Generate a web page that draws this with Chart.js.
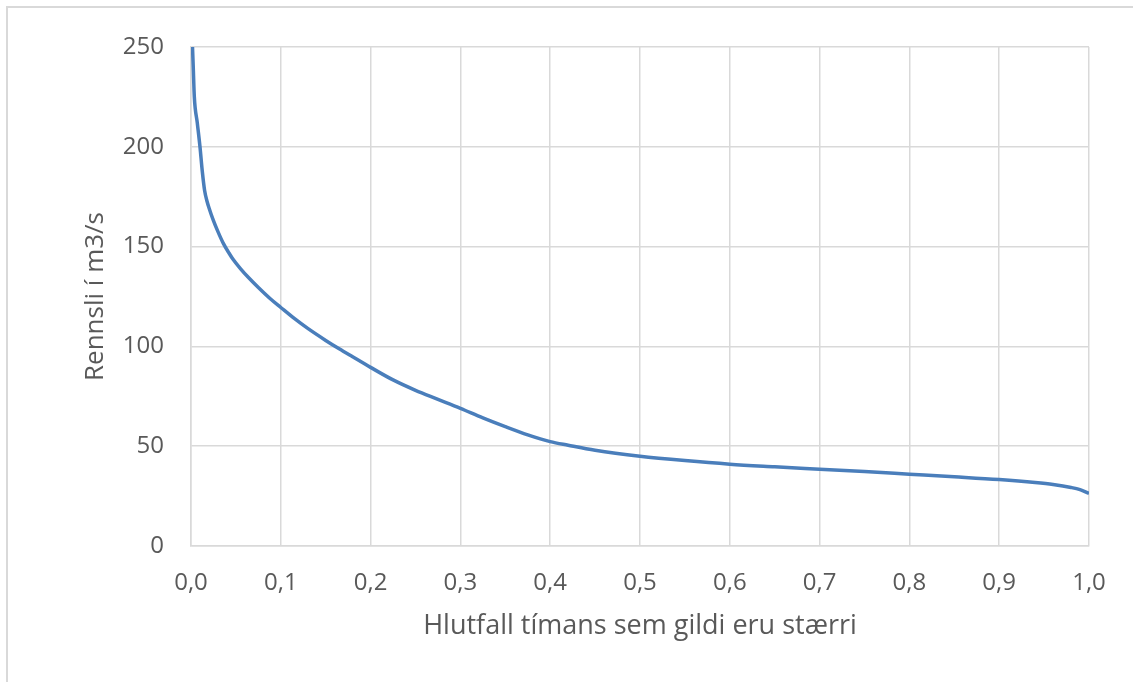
<!DOCTYPE html>
<html lang="is">
<head>
  <meta charset="UTF-8">
  <title>Rennsli</title>
  <script src="https://cdn.jsdelivr.net/npm/chart.js@4/dist/chart.umd.min.js"></script>
  <style>
    html, body { margin: 0; padding: 0; background: #fff; }
    #wrap { position: relative; width: 1133px; height: 682px; overflow: hidden; }
    #frame {
      position: absolute; left: 6px; top: 6px; width: 1140px; height: 700px;
      border-top: 2px solid #d9d9d9; border-left: 2px solid #d9d9d9;
      pointer-events: none;
    }
  </style>
</head>
<body>
  <div id="wrap">
    <canvas id="myChart" width="1133" height="682"></canvas>
    <div id="frame"></div>
  </div>
  <script>
    // hlutfall tímans (x) og rennsli í m3/s (y), lesið af myndinni
    const timeShare = [0.0015, 0.0025, 0.0037, 0.007, 0.010, 0.0125, 0.0152, 0.018, 0.020, 0.025,
      0.030, 0.036, 0.042, 0.047, 0.055, 0.064, 0.075, 0.088,
      0.100, 0.115, 0.130, 0.150, 0.165, 0.180, 0.200, 0.225, 0.250, 0.275,
      0.300, 0.325, 0.350, 0.375, 0.400, 0.420, 0.450, 0.500, 0.550, 0.600,
      0.650, 0.700, 0.750, 0.800, 0.850, 0.900, 0.940, 0.960, 0.980, 0.990, 1.000]
    const flow = [252, 240, 225, 212, 200, 188, 178, 172.5, 169.5, 163,
      157.5, 151.6, 147, 143.5, 139, 134.5, 129.5, 124,
      119.5, 114, 109, 103, 98.8, 94.8, 89.5, 83.2, 78, 73.5,
      69, 64.2, 59.8, 55.7, 52.3, 50.5, 48, 45, 42.8, 41,
      39.7, 38.5, 37.3, 36, 34.7, 33.3, 31.8, 30.8, 29.3, 28.2, 26.3]
    const xTitle = 'Hlutfall tímans sem gildi eru stærri'
    const yTitle = 'Rennsli í m3/s'

    const font = "'Open Sans', 'Noto Sans', sans-serif"
    const textColor = '#595959'
    const gridColor = '#d9d9d9'

    const ctx = document.getElementById('myChart').getContext('2d')
    const chart = new Chart(ctx, {
      type: 'line',
      data: {
        datasets: [{
          label: yTitle,
          data: timeShare.map((x, i) => ({ x: x, y: flow[i] })),
          borderColor: '#4a7ebb',
          borderWidth: 3.5,
          pointRadius: 0,
          fill: false,
          cubicInterpolationMode: 'monotone'
        }]
      },
      options: {
        responsive: false,
        animation: false,
        layout: { padding: { left: 0, top: 47, right: 44, bottom: 0 } },
        plugins: {
          legend: { display: false },
          tooltip: { enabled: false }
        },
        scales: {
          x: {
            type: 'linear',
            min: 0,
            max: 1,
            ticks: {
              stepSize: 0.1,
              padding: 23,
              color: textColor,
              font: { family: font, size: 24 },
              callback: v => v.toFixed(1).replace('.', ',')
            },
            grid: { color: gridColor, lineWidth: 1.5, drawTicks: false },
            border: { color: gridColor, width: 1.5 },
            title: {
              display: true,
              text: xTitle,
              color: textColor,
              font: { family: font, size: 27 },
              padding: { top: 0, bottom: 39 }
            },
            afterFit: scale => { scale.height = 136 }
          },
          y: {
            min: 0,
            max: 250,
            ticks: {
              stepSize: 50,
              padding: 27,
              color: textColor,
              font: { family: font, size: 24 }
            },
            grid: { color: gridColor, lineWidth: 1.5, drawTicks: false },
            border: { color: gridColor, width: 1.5 },
            title: {
              display: true,
              text: yTitle,
              color: textColor,
              font: { family: font, size: 26 },
              padding: { top: 80, bottom: 0 }
            },
            afterFit: scale => { scale.width = 191 }
          }
        }
      }
    })
  </script>
</body>
</html>
